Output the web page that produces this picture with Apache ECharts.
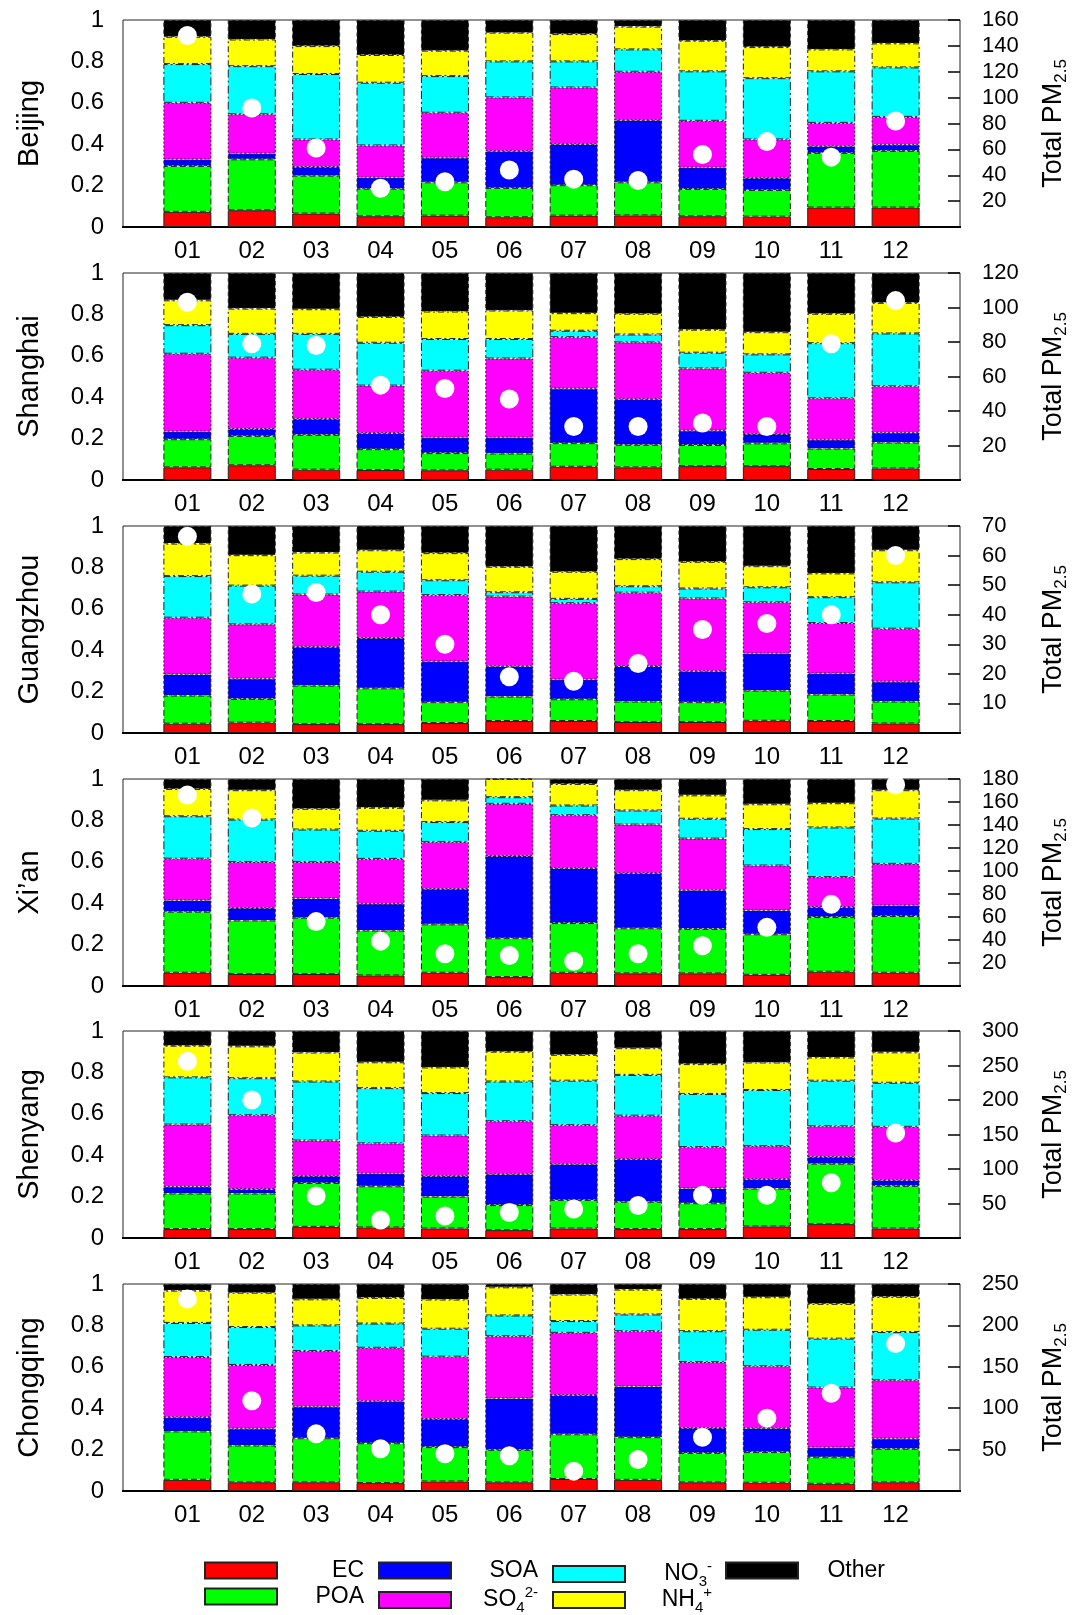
<!DOCTYPE html>
<html>
<head>
<meta charset="utf-8">
<script src="https://cdn.jsdelivr.net/npm/echarts@6/dist/echarts.min.js"></script>
<style>
html,body{margin:0;padding:0;background:#fff;}
#chart{width:1078px;height:1615px;}
</style>
</head>
<body>
<div id="chart"></div>
<script>
// ---------------- DATA ----------------
const months = ['01','02','03','04','05','06','07','08','09','10','11','12'];
const cities = ['Beijing','Shanghai','Guangzhou','Xi\u2019an','Shenyang','Chongqing'];
const components = ['EC','POA','SOA','SO4','NO3','NH4','Other'];
const rightMax = [160,120,70,180,300,250];
const rightStep = [20,20,10,20,50,50];

// Beijing (fractions of total PM2.5)
const beijingEC    = [.073,.081,.065,.052,.055,.047,.055,.056,.052,.050,.094,.094];
const beijingPOA   = [.222,.246,.183,.133,.161,.142,.147,.160,.132,.129,.264,.274];
const beijingSOA   = [.031,.028,.042,.054,.119,.177,.198,.300,.103,.058,.032,.029];
const beijingSO4   = [.274,.190,.133,.155,.217,.260,.274,.234,.226,.186,.113,.135];
const beijingNO3   = [.187,.232,.316,.303,.177,.174,.126,.108,.239,.296,.249,.239];
const beijingNH4   = [.132,.129,.135,.134,.123,.139,.132,.110,.148,.150,.106,.116];
const beijingOther = [.081,.094,.126,.169,.148,.061,.068,.032,.100,.131,.142,.113];
const beijingPM    = [148,92,61,30,35,44,37,36,56,66,54,82];

// Shanghai
const shanghaiEC    = [.061,.071,.050,.048,.047,.050,.064,.061,.067,.067,.053,.056];
const shanghaiPOA   = [.136,.142,.168,.101,.083,.078,.114,.109,.102,.110,.099,.125];
const shanghaiSOA   = [.037,.033,.077,.077,.075,.077,.263,.220,.069,.045,.042,.047];
const shanghaiSO4   = [.376,.345,.238,.230,.323,.382,.249,.275,.301,.296,.201,.225];
const shanghaiNO3   = [.138,.115,.173,.207,.153,.094,.031,.038,.076,.089,.266,.255];
const shanghaiNH4   = [.120,.122,.119,.125,.133,.138,.085,.100,.111,.107,.142,.148];
const shanghaiOther = [.132,.172,.175,.212,.186,.181,.194,.197,.274,.286,.197,.144];
const shanghaiPM    = [103,79,78,55,53,47,31,31,33,31,79,104];

// Guangzhou
const guangzhouEC    = [.045,.050,.043,.043,.048,.058,.058,.053,.053,.059,.058,.046];
const guangzhouPOA   = [.136,.115,.186,.173,.101,.118,.105,.099,.096,.146,.128,.106];
const guangzhouSOA   = [.102,.097,.187,.243,.197,.146,.095,.171,.149,.179,.102,.096];
const guangzhouSO4   = [.274,.263,.253,.224,.320,.337,.369,.355,.352,.248,.243,.256];
const guangzhouNO3   = [.201,.187,.091,.096,.072,.021,.021,.031,.048,.072,.125,.224];
const guangzhouNH4   = [.157,.147,.112,.104,.131,.123,.131,.131,.129,.102,.115,.155];
const guangzhouOther = [.085,.141,.128,.117,.131,.197,.221,.160,.173,.194,.229,.117];
const guangzhouPM    = [66.5,47,47.5,40,30,19,17.5,23.5,35,37,40,60];

// Xi'an
const xianEC    = [.064,.058,.058,.051,.064,.043,.064,.061,.061,.054,.069,.064];
const xianPOA   = [.295,.259,.272,.217,.234,.188,.240,.218,.215,.196,.264,.274];
const xianSOA   = [.054,.060,.093,.129,.170,.397,.265,.266,.186,.115,.048,.051];
const xianSO4   = [.202,.222,.176,.217,.228,.252,.256,.235,.250,.217,.145,.201];
const xianNO3   = [.205,.205,.157,.136,.096,.032,.047,.068,.096,.176,.240,.219];
const xianNH4   = [.132,.142,.100,.111,.105,.088,.104,.098,.113,.120,.117,.137];
const xianOther = [.048,.054,.144,.139,.103,.000,.024,.054,.079,.122,.117,.054];
const xianPM    = [166,146,56,39,28,26.5,21.5,28,35,51,71,175];

// Shenyang
const shenyangEC    = [.043,.043,.054,.051,.046,.038,.046,.043,.043,.056,.067,.046];
const shenyangPOA   = [.172,.172,.212,.199,.154,.121,.138,.132,.125,.183,.292,.206];
const shenyangSOA   = [.032,.021,.034,.061,.100,.149,.172,.206,.071,.045,.032,.027];
const shenyangSO4   = [.301,.357,.171,.146,.195,.256,.189,.210,.200,.160,.149,.258];
const shenyangNO3   = [.228,.179,.285,.267,.205,.192,.215,.197,.257,.271,.220,.213];
const shenyangNH4   = [.153,.154,.140,.125,.124,.144,.125,.129,.144,.133,.112,.147];
const shenyangOther = [.071,.074,.104,.151,.176,.100,.115,.083,.160,.152,.128,.103];
const shenyangPM    = [256,200,61,26,32,37,42,47,62,62,80,152];

// Chongqing
const chongqingEC    = [.054,.042,.042,.038,.046,.042,.058,.054,.042,.040,.035,.042];
const chongqingPOA   = [.234,.178,.213,.193,.166,.157,.216,.206,.142,.148,.128,.162];
const chongqingSOA   = [.068,.081,.152,.202,.136,.248,.189,.245,.120,.115,.047,.049];
const chongqingSO4   = [.291,.308,.269,.259,.301,.301,.301,.267,.319,.300,.290,.282];
const chongqingNO3   = [.165,.183,.124,.117,.135,.100,.057,.081,.149,.176,.236,.233];
const chongqingNH4   = [.156,.166,.126,.124,.141,.136,.128,.120,.156,.157,.168,.170];
const chongqingOther = [.032,.042,.074,.067,.075,.016,.051,.027,.072,.064,.096,.062];
const chongqingPM    = [232,109,69,51,45,42.5,24,38,65,88,118,178];

// ---------------- BUILD ----------------
const cityComp = [
  [beijingEC,beijingPOA,beijingSOA,beijingSO4,beijingNO3,beijingNH4,beijingOther],
  [shanghaiEC,shanghaiPOA,shanghaiSOA,shanghaiSO4,shanghaiNO3,shanghaiNH4,shanghaiOther],
  [guangzhouEC,guangzhouPOA,guangzhouSOA,guangzhouSO4,guangzhouNO3,guangzhouNH4,guangzhouOther],
  [xianEC,xianPOA,xianSOA,xianSO4,xianNO3,xianNH4,xianOther],
  [shenyangEC,shenyangPOA,shenyangSOA,shenyangSO4,shenyangNO3,shenyangNH4,shenyangOther],
  [chongqingEC,chongqingPOA,chongqingSOA,chongqingSO4,chongqingNO3,chongqingNH4,chongqingOther]
];
const cityPM = [beijingPM,shanghaiPM,guangzhouPM,xianPM,shenyangPM,chongqingPM];

const FONT = 'Liberation Sans, Arial, Helvetica, sans-serif';
const colors = {EC:'#ff0000',POA:'#00ff00',SOA:'#0000ff',SO4:'#ff00ff',NO3:'#00ffff',NH4:'#ffff00',Other:'#000000'};
const dashes = {EC:'solid',POA:[6,3],SOA:[3,2],SO4:[2,2],NO3:[8,3,2,3],NH4:[6,3,2,3],Other:[4,3]};
const xCats = [''].concat(months, ['']);
const pad = a => ['-'].concat(a, ['-']);

const gridTops = [20, 273, 526, 779, 1031, 1284];
const grids = [], xAxes = [], yAxes = [], series = [];

cities.forEach((city, i) => {
  grids.push({left:123, right:118, top:gridTops[i], height:207,
    show:true, borderColor:'#222', borderWidth:1, backgroundColor:'#fff',
    containLabel:false, outerBoundsMode:'none'});
  xAxes.push({type:'category', gridIndex:i, data:xCats, boundaryGap:false, position:'bottom',
    axisLine:{show:true, lineStyle:{color:'#000', width:2}},
    axisTick:{show:false}, splitLine:{show:false},
    axisLabel:{interval:0, color:'#000', fontSize:24, fontFamily:FONT, margin:12}});
  xAxes.push({type:'category', gridIndex:i, data:xCats, boundaryGap:false, position:'top',
    axisLine:{show:true, lineStyle:{color:'#000', width:2}},
    axisTick:{show:false}, axisLabel:{show:false}, splitLine:{show:false}});
  yAxes.push({type:'value', gridIndex:i, min:0, max:1, interval:0.2, position:'left',
    name:city, nameLocation:'middle', nameRotate:90, nameGap:79, nameMoveOverlap:false,
    nameTextStyle:{fontSize:29, color:'#000', fontFamily:FONT},
    axisLine:{show:false}, axisTick:{show:false}, splitLine:{show:false},
    axisLabel:{color:'#000', fontSize:24, fontFamily:FONT, margin:19,
      showMinLabel:true, showMaxLabel:true, hideOverlap:false}});
  yAxes.push({type:'value', gridIndex:i, min:0, max:rightMax[i], interval:rightStep[i], position:'right',
    name:'{m|Total PM}{s|2.5}', nameLocation:'middle', nameRotate:90, nameGap:78, nameMoveOverlap:false,
    nameTextStyle:{color:'#000', fontFamily:FONT,
      rich:{m:{fontSize:27, lineHeight:32, fontFamily:FONT, color:'#000'},
            s:{fontSize:17, lineHeight:17, verticalAlign:'bottom', fontFamily:FONT, color:'#000'}}},
    axisLine:{show:false}, splitLine:{show:false},
    axisTick:{show:true, inside:true, length:12, lineStyle:{color:'#000', width:1.5}},
    axisLabel:{color:'#000', fontSize:22, fontFamily:FONT, margin:22,
      showMinLabel:false, showMaxLabel:true, hideOverlap:false}});

  components.forEach((c, k) => {
    series.push({name:c, type:'bar', stack:'s'+i, xAxisIndex:2*i, yAxisIndex:2*i,
      barWidth:48, data:pad(cityComp[i][k]), silent:true,
      itemStyle:{color:colors[c], borderColor:'#222', borderWidth:1, borderType:dashes[c]},
      emphasis:{disabled:true}});
  });
  series.push({name:'PM2.5 '+city, type:'scatter', xAxisIndex:2*i, yAxisIndex:2*i+1,
    data:pad(cityPM[i]), symbol:'circle', symbolSize:19, z:10, silent:true, clip:false,
    itemStyle:{color:'#ffffff', opacity:1}});
});

// legend
const legendLabels = {
  EC:'{m|EC}', POA:'{m|POA}', SOA:'{m|SOA}', SO4:'{m|SO}{sb|4}{sp|2-}',
  NO3:'{m|NO}{sb|3}{sp|-}', NH4:'{m|NH}{sb|4}{sp|+}', Other:'{m|Other}'
};
const legendSpots = {EC:[204,1559], SOA:[378,1559], NO3:[552,1559], Other:[725,1559],
                     POA:[204,1585], SO4:[378,1585], NH4:[552,1585]};
const richLegend = {
  m:{fontSize:23, lineHeight:30, align:'right', fontFamily:FONT, color:'#000'},
  sb:{fontSize:15, lineHeight:15, align:'right', verticalAlign:'bottom', fontFamily:FONT, color:'#000'},
  sp:{fontSize:15, lineHeight:15, align:'right', verticalAlign:'top', fontFamily:FONT, color:'#000'}
};
const legends = components.map(c => ({
  data:[c], left:legendSpots[c][0], top:legendSpots[c][1], orient:'horizontal',
  padding:0, itemWidth:72, itemHeight:16, icon:'rect', selectedMode:false,
  formatter: () => legendLabels[c],
  textStyle:{width:82, fontFamily:FONT, rich:richLegend}
}));

const chart = echarts.init(document.getElementById('chart'), null, {renderer:'canvas'});
chart.setOption({
  animation:false,
  backgroundColor:'#ffffff',
  textStyle:{fontFamily:FONT},
  grid:grids, xAxis:xAxes, yAxis:yAxes, series:series, legend:legends
});
</script>
</body>
</html>
